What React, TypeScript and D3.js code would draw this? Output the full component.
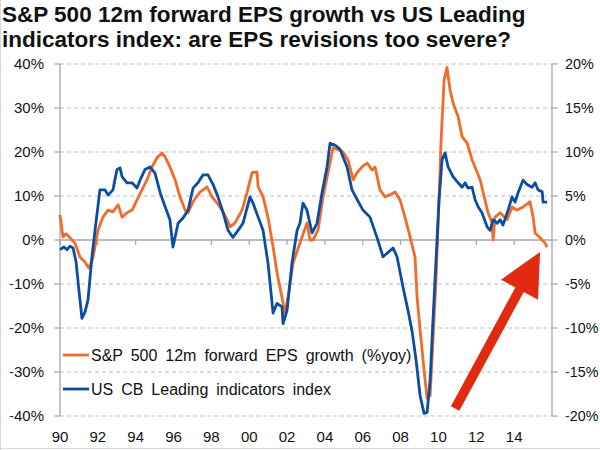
import React from "react";
import * as d3 from "d3";

const titleLines = [
  "S&P 500 12m forward EPS growth vs US Leading",
  "indicators index: are EPS revisions too severe?",
];

// S&P 500 12m forward EPS growth, % yoy (left axis)
const epsGrowth: [number, number][] = [
  [1990.0, 5.7], [1990.16, 0.7], [1990.32, 1.4], [1990.53, 0.5], [1990.79, -0.7],
  [1991.06, -3.9], [1991.32, -5.0], [1991.53, -6.4], [1991.74, -4.1], [1992.01, 2.3],
  [1992.27, 5.2], [1992.54, 6.8], [1992.8, 6.4], [1993.07, 8.0], [1993.28, 5.2],
  [1993.54, 6.2], [1993.81, 6.8], [1994.07, 9.1], [1994.33, 11.4], [1994.6, 13.7],
  [1994.86, 16.6], [1995.13, 18.7], [1995.39, 19.8], [1995.55, 18.9], [1995.81, 16.6],
  [1996.08, 13.7], [1996.34, 9.8], [1996.61, 6.8], [1996.77, 6.2], [1997.03, 8.7],
  [1997.4, 10.9], [1997.77, 12.1], [1998.03, 9.8], [1998.3, 8.4], [1998.56, 6.8],
  [1998.83, 4.6], [1998.99, 3.0], [1999.25, 3.9], [1999.62, 6.8], [1999.88, 10.7],
  [2000.15, 15.3], [2000.41, 15.5], [2000.47, 12.1], [2000.73, 9.8], [2000.99, 5.2],
  [2001.26, -1.6], [2001.47, -7.5], [2001.73, -13.0], [2001.89, -16.6], [2002.05, -13.0],
  [2002.32, -5.2], [2002.68, -0.7], [2003.05, 3.9], [2003.21, 0.0], [2003.37, 0.0],
  [2003.64, 2.3], [2003.9, 9.8], [2004.16, 15.3], [2004.43, 21.0], [2004.69, 20.5],
  [2004.96, 20.0], [2005.22, 18.2], [2005.49, 13.7], [2005.7, 15.3], [2005.96, 16.6],
  [2006.23, 17.5], [2006.49, 15.9], [2006.65, 16.6], [2006.91, 11.4], [2007.18, 9.8],
  [2007.44, 10.3], [2007.71, 10.9], [2007.97, 9.1], [2008.23, 5.2], [2008.5, 0.7],
  [2008.76, -3.9], [2008.87, -13.0], [2009.03, -20.5], [2009.24, -29.6], [2009.4, -36.0],
  [2009.56, -35.3], [2009.71, -22.8], [2009.87, -9.1], [2010.03, 9.1], [2010.14, 22.8],
  [2010.3, 36.4], [2010.45, 39.2], [2010.61, 34.2], [2010.77, 31.2], [2011.04, 28.0],
  [2011.25, 23.5], [2011.51, 22.1], [2011.78, 18.2], [2011.93, 16.6], [2012.2, 13.7],
  [2012.46, 9.1], [2012.62, 6.2], [2012.83, 3.9], [2012.89, 0.0], [2012.99, 5.2],
  [2013.26, 6.2], [2013.63, 4.6], [2013.89, 7.5], [2014.15, 6.8], [2014.47, 7.5],
  [2014.84, 8.7], [2015.0, 5.2], [2015.11, 1.6], [2015.37, 0.5], [2015.63, -0.7],
  [2015.74, -1.6],
];

// US CB Leading indicators index, % yoy (right axis)
const leiGrowth: [number, number][] = [
  [1990.0, -1.1], [1990.21, -0.8], [1990.37, -1.1], [1990.53, -0.7], [1990.69, -0.9],
  [1990.85, -2.5], [1991.0, -5.7], [1991.16, -8.9], [1991.32, -8.2], [1991.48, -6.8],
  [1991.69, -1.9], [1991.85, 1.1], [1992.11, 5.7], [1992.38, 5.7], [1992.54, 5.1],
  [1992.8, 5.7], [1993.01, 8.0], [1993.17, 8.2], [1993.28, 7.2], [1993.54, 6.5],
  [1993.81, 6.5], [1994.07, 5.9], [1994.23, 6.8], [1994.49, 8.0], [1994.76, 8.3],
  [1995.02, 7.6], [1995.29, 5.4], [1995.55, 3.8], [1995.81, 2.3], [1995.97, -0.8],
  [1996.24, 1.9], [1996.5, 2.5], [1996.77, 3.4], [1997.03, 5.9], [1997.29, 6.5],
  [1997.56, 7.4], [1997.82, 7.4], [1998.09, 6.3], [1998.35, 4.9], [1998.62, 3.1],
  [1998.88, 1.1], [1999.14, 0.3], [1999.41, 1.1], [1999.67, 1.9], [2000.04, 4.9],
  [2000.2, 4.2], [2000.47, 2.6], [2000.73, 1.1], [2000.99, -2.6], [2001.26, -8.3],
  [2001.47, -7.2], [2001.73, -7.6], [2001.79, -9.5], [2002.0, -8.0], [2002.26, -2.6],
  [2002.53, 1.1], [2002.68, 1.9], [2002.84, 4.2], [2003.05, 3.4], [2003.32, 0.8],
  [2003.58, 1.9], [2003.85, 5.4], [2004.11, 8.3], [2004.27, 11.0], [2004.53, 10.8],
  [2004.8, 10.3], [2005.17, 8.3], [2005.43, 5.7], [2005.7, 4.6], [2006.01, 3.4],
  [2006.38, 2.6], [2006.75, 0.3], [2007.07, -1.9], [2007.34, -1.4], [2007.6, -0.9],
  [2007.81, -1.9], [2008.13, -5.4], [2008.39, -8.0], [2008.6, -10.3], [2008.82, -13.7],
  [2009.03, -17.7], [2009.24, -19.7], [2009.4, -19.6], [2009.56, -15.9], [2009.71, -9.1],
  [2009.87, -2.3], [2010.03, 4.6], [2010.19, 9.1], [2010.35, 9.9], [2010.51, 8.3],
  [2010.77, 7.2], [2011.04, 6.5], [2011.25, 6.0], [2011.41, 6.5], [2011.56, 5.9],
  [2011.78, 6.0], [2011.93, 4.6], [2012.09, 3.8], [2012.3, 3.1], [2012.57, 1.5],
  [2012.73, 1.1], [2012.89, 2.3], [2013.1, 1.9], [2013.26, 2.3], [2013.41, 1.7],
  [2013.68, 3.4], [2013.89, 4.9], [2014.05, 4.3], [2014.21, 5.4], [2014.47, 6.8],
  [2014.68, 6.3], [2014.95, 6.0], [2015.11, 6.5], [2015.26, 5.7], [2015.48, 5.5],
  [2015.53, 4.3], [2015.74, 4.3],
];

const leftTicks = [40, 30, 20, 10, 0, -10, -20, -30, -40];
const rightTicks = [20, 15, 10, 5, 0, -5, -10, -15, -20];
const xTickYears = [1990, 1992, 1994, 1996, 1998, 2000, 2002, 2004, 2006, 2008, 2010, 2012, 2014];
const xTickLabels = ["90", "92", "94", "96", "98", "00", "02", "04", "06", "08", "10", "12", "14"];
const seriesNames = ["S&P 500 12m forward EPS growth (%yoy)", "US CB Leading indicators index"];
// annotation arrow: [year, left-axis value] for tail and tip
const arrowTail: [number, number] = [2010.88, -38.3];
const arrowTip: [number, number] = [2015.37, -2.7];

const ORANGE = "#f26b2a";
const BLUE = "#0c4da2";
const FONT = "Liberation Sans, Arial, sans-serif";

export default function App() {
  const W = 600, H = 450;
  const x = d3.scaleLinear().domain([1990, 2016]).range([60, 552]);
  const yL = d3.scaleLinear().domain([-40, 40]).range([416, 64]);
  const yR = d3.scaleLinear().domain([-20, 20]).range([416, 64]);

  const epsLine = d3.line<[number, number]>().x(d => x(d[0])).y(d => yL(d[1]))(epsGrowth) || "";
  const leiLine = d3.line<[number, number]>().x(d => x(d[0])).y(d => yR(d[1]))(leiGrowth) || "";

  // arrow polygon
  const tx = x(arrowTail[0]), ty = yL(arrowTail[1]);
  const hx = x(arrowTip[0]), hy = yL(arrowTip[1]);
  const len = Math.hypot(hx - tx, hy - ty);
  const ux = (hx - tx) / len, uy = (hy - ty) / len;
  const px = -uy, py = ux;
  const headLen = 43, headHalf = 21, shaftHalf = 4.8;
  const bx = hx - ux * headLen, by = hy - uy * headLen;
  const arrowPts = [
    [tx + px * shaftHalf, ty + py * shaftHalf],
    [bx + px * shaftHalf, by + py * shaftHalf],
    [bx + px * headHalf, by + py * headHalf],
    [hx, hy],
    [bx - px * headHalf, by - py * headHalf],
    [bx - px * shaftHalf, by - py * shaftHalf],
    [tx - px * shaftHalf, ty - py * shaftHalf],
  ].map(p => p.join(",")).join(" ");

  const label = (v: number) => {
    const s = `${Math.abs(v)}%`;
    return v < 0 ? (
      <>
        <tspan fill="#5a1a6a">-</tspan>
        {s}
      </>
    ) : (
      s
    );
  };

  return (
    <svg
      width={W}
      height={H}
      style={{ position: "absolute", left: 0, top: 0, background: "#fff" }}
      fontFamily={FONT}
    >
      <rect x={0} y={0} width={W} height={H} fill="#fff" />
      <line x1={0.5} y1={0} x2={0.5} y2={H} stroke="#d8d8d8" />
      <line x1={0} y1={H - 1.5} x2={W} y2={H - 1.5} stroke="#d8d8d8" />

      {titleLines.map((t, i) => (
        <text key={i} x={2} y={22 + i * 25} fontSize={22.5} fontWeight="bold" fill="#111">
          {t}
        </text>
      ))}

      {/* gridlines */}
      {leftTicks.filter(v => v !== 0).map(v => (
        <line key={v} x1={x(1990)} x2={x(2016)} y1={yL(v)} y2={yL(v)} stroke="#bdbdbd" strokeWidth={1} strokeDasharray="4,3" />
      ))}
      {/* axes */}
      <line x1={x(1990)} x2={x(1990)} y1={yL(40)} y2={yL(-40)} stroke="#a6a6a6" strokeWidth={1.3} />
      <line x1={x(2016)} x2={x(2016)} y1={yL(40)} y2={yL(-40)} stroke="#a6a6a6" strokeWidth={1.3} />
      <line x1={x(1990)} x2={x(2016)} y1={yL(0)} y2={yL(0)} stroke="#a6a6a6" strokeWidth={1.3} />
      {leftTicks.map(v => (
        <line key={v} x1={x(1990) - 6} x2={x(1990)} y1={yL(v)} y2={yL(v)} stroke="#a6a6a6" strokeWidth={1.2} />
      ))}
      {rightTicks.map(v => (
        <line key={v} x1={x(2016)} x2={x(2016) + 6} y1={yR(v)} y2={yR(v)} stroke="#a6a6a6" strokeWidth={1.2} />
      ))}
      {xTickYears.map(yr => (
        <line key={yr} x1={x(yr)} x2={x(yr)} y1={yL(0)} y2={yL(0) + 5} stroke="#a6a6a6" strokeWidth={1.2} />
      ))}

      {/* tick labels */}
      {leftTicks.map(v => (
        <text key={v} x={44} y={yL(v) + 5} fontSize={15} textAnchor="end" fill="#111">
          {label(v)}
        </text>
      ))}
      {rightTicks.map(v => (
        <text key={v} x={565} y={yR(v) + 5} fontSize={14.3} textAnchor="start" fill="#111">
          {label(v)}
        </text>
      ))}
      {xTickYears.map((yr, i) => (
        <text key={yr} x={x(yr)} y={442} fontSize={15} textAnchor="middle" fill="#111">
          {xTickLabels[i]}
        </text>
      ))}

      {/* series */}
      <path d={epsLine} fill="none" stroke={ORANGE} strokeWidth={2.8} strokeLinejoin="round" />
      <path d={leiLine} fill="none" stroke={BLUE} strokeWidth={2.8} strokeLinejoin="round" />

      {/* legend */}
      {seriesNames.map((n, i) => (
        <g key={n} transform={`translate(0, ${355 + i * 34})`}>
          <line x1={63} x2={89} y1={0} y2={0} stroke={i === 0 ? ORANGE : BLUE} strokeWidth={2.8} />
          <text x={91} y={6} fontSize={16} fill="#111" wordSpacing={3.5}>
            {n}
          </text>
        </g>
      ))}

      {/* arrow */}
      <polygon points={arrowPts} fill="#e12b10" />
    </svg>
  );
}
